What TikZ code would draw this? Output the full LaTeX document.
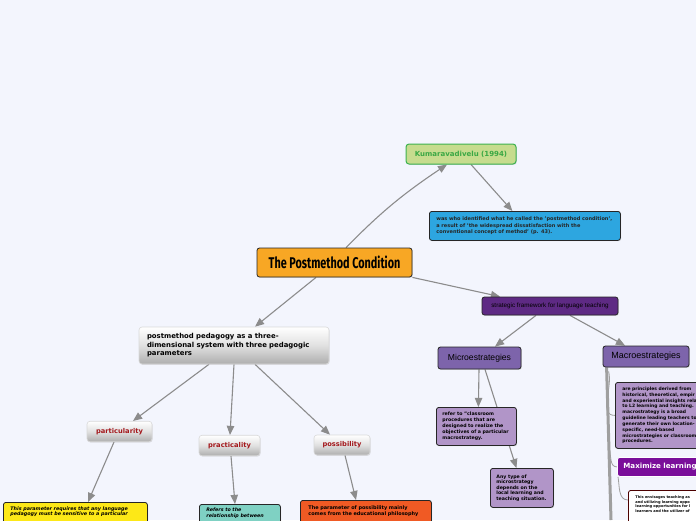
\documentclass[tikz,border=0pt]{standalone}
\usepackage{fontspec}
\setmainfont{DejaVu Sans}
\newfontfamily\arialfont{Liberation Sans}
\newfontfamily\titlefont[FakeStretch=0.7]{Fira Sans}
\usepackage{xcolor}
\usepackage{tikz}
\usetikzlibrary{shapes, arrows, positioning, calc, backgrounds, shadows}

\definecolor{bgcol}{RGB}{243,245,253}
\definecolor{kumarfill}{RGB}{198,220,142}
\definecolor{kumarline}{RGB}{60,178,80}
\definecolor{kumartext}{RGB}{58,168,68}
\definecolor{bluefill}{RGB}{45,166,224}
\definecolor{titlefill}{RGB}{248,167,36}
\definecolor{stratfill}{RGB}{94,42,132}
\definecolor{midpurple}{RGB}{125,100,171}
\definecolor{lavender}{RGB}{177,149,200}
\definecolor{maxfill}{RGB}{122,14,154}
\definecolor{yellowfill}{RGB}{253,232,23}
\definecolor{tealfill}{RGB}{127,209,195}
\definecolor{redfill}{RGB}{240,90,36}
\definecolor{darkred}{RGB}{163,23,27}
\definecolor{linegray}{RGB}{140,140,140}

\newcommand{\padbottom}{\\\rule{0pt}{8pt}}

\tikzset{
  box/.style={draw=black!85, line width=0.8pt, rounded corners=2.5pt,
    execute at begin node={\hyphenpenalty=10000\exhyphenpenalty=10000\relax},
    drop shadow={opacity=0.25, shadow xshift=0.8pt, shadow yshift=-0.8pt}},
  smalltext/.style={font=\bfseries\fontsize{4.7}{6.1}\selectfont, align=left},
  greybox/.style={draw=gray!30, line width=0.6pt, rounded corners=3pt,
    top color=white, bottom color=black!32, middle color=white!88!black,
    drop shadow={opacity=0.2, shadow xshift=0.6pt, shadow yshift=-0.8pt}},
  paramnode/.style={greybox, text=darkred, font=\bfseries\fontsize{6.7}{8}\selectfont,
    minimum height=20.5pt, inner sep=0pt},
  link/.style={draw=linegray, line width=1.1pt, -triangle 45},
  trunk/.style={draw=gray!75, line width=3pt},
  branch/.style={draw=gray!75, line width=0.8pt}
}

\begin{document}
\begin{tikzpicture}[x=1pt, y=-1pt]
\useasboundingbox (0,0) rectangle (696,520);
\clip (0,0) rectangle (696,520);

% central topic
\node[box, fill=titlefill, minimum width=155pt, minimum height=29pt, inner sep=0pt,
  font=\titlefont\bfseries\fontsize{15.5}{17}\selectfont] (title) at (334.5,262.5) {The Postmethod Condition};

% author
\node[box, fill=kumarfill, draw=kumarline, line width=1pt, rounded corners=3pt, text=kumartext,
  minimum width=110pt, minimum height=20pt, inner sep=0pt,
  font=\bfseries\fontsize{7}{8}\selectfont] (kumar) at (461,154) {Kumaravadivelu (1994)};
\node[box, fill=bluefill, anchor=north west, minimum height=29pt, inner xsep=7pt,
  text width=177pt, font=\bfseries\fontsize{5}{6.4}\selectfont, align=left, text=black!85]
  (blue) at (429,211) {was who identified what he called the 'postmethod condition',\\
  a result of 'the widespread dissatisfaction with the\\
  conventional concept of method' (p. 43).};

% strategic framework
\node[box, fill=stratfill, minimum width=136pt, minimum height=18pt, inner sep=0pt,
  font=\arialfont\fontsize{6.3}{7}\selectfont] (strat) at (550,306) {strategic framework for language teaching};
\node[box, fill=midpurple, minimum width=83pt, minimum height=22pt, inner sep=0pt,
  font=\arialfont\fontsize{8.6}{10}\selectfont] (micro) at (479.5,358) {Microestrategies};
\node[box, fill=midpurple, minimum width=86pt, minimum height=21pt, inner sep=0pt,
  font=\arialfont\fontsize{9}{10}\selectfont] (macro) at (646,356.5) {Macroestrategies};

\node[box, fill=lavender, smalltext, anchor=north west, minimum height=38pt,
  inner xsep=6pt, text width=68pt] (refer) at (436,407)
  {refer to "classroom\\ procedures that are\\ designed to realize the\\
  objectives of a particular\\ macrostrategy.};
\node[box, fill=lavender, smalltext, anchor=north west, minimum height=39pt,
  inner xsep=6pt, text width=51pt, font=\bfseries\fontsize{4.7}{5.5}\selectfont] (anytype) at (490,468)
  {Any type of\\ microstrategy\\ depends on the\\ local learning and\\ teaching situation.};

\node[box, fill=lavender, smalltext, anchor=north west, minimum height=66pt,
  inner xsep=7pt, text width=96pt, font=\bfseries\fontsize{4.5}{5.85}\selectfont] (macdesc) at (615,382)
  {are principles derived from\\ historical, theoretical, empir\\
  and experiential insights rela\\ to L2 learning and teaching.\\
  macrostrategy is a broad\\ guideline leading teachers to\\
  generate their own location-\\ specific, need-based\\
  microstrategies or classroom\\ procedures.};
\node[box, fill=maxfill, draw=white, text=white, anchor=north west, minimum height=19pt,
  minimum width=95pt, inner xsep=6pt, align=left, text width=83pt,
  font=\bfseries\fontsize{7.1}{8}\selectfont] (maxim) at (617,457)
  {Maximize learning};
\node[box, fill=white, draw=black!70!red, anchor=north west,
  inner xsep=7pt, inner ysep=5pt, text width=90pt, align=left,
  font=\bfseries\fontsize{3.6}{4.9}\selectfont] (envis) at (628,490)
  {This envisages teaching as\\ and utilizing learning oppo\\
  learning opportunities for l\\ learners and the utilizer of\padbottom};

% three parameters
\node[greybox, minimum width=190pt, minimum height=37pt, inner xsep=8pt, text width=174pt,
  align=left, font=\bfseries\fontsize{6.9}{8.5}\selectfont] (ped) at (234,345.5)
  {postmethod pedagogy as a three-\\ dimensional system with three pedagogic\\ parameters};
\node[paramnode, minimum width=65pt] (partic) at (119.5,431.5) {particularity};
\node[paramnode, minimum width=61pt] (pract) at (229.5,445.5) {practicality};
\node[paramnode, minimum width=56pt, minimum height=20pt] (possib) at (342,445) {possibility};

\node[box, fill=yellowfill, anchor=north west, inner xsep=7pt,
  inner ysep=4pt, text width=130pt, align=left,
  font=\bfseries\itshape\fontsize{4.85}{5.8}\selectfont] (yellow) at (3,502)
  {This parameter requires that any language\\ pedagogy must be sensitive to a particular\padbottom};
\node[box, fill=tealfill, anchor=north west, inner xsep=7pt,
  inner ysep=3.5pt, text width=67pt, align=left,
  font=\bfseries\itshape\fontsize{4.8}{5.6}\selectfont] (teal) at (199,504)
  {Refers to the\\ relationship between\padbottom};
\node[box, fill=redfill, anchor=north west, inner xsep=8pt,
  inner ysep=5pt, text width=115pt, align=left,
  font=\bfseries\fontsize{4.95}{6}\selectfont] (orange) at (300,500)
  {The parameter of possibility mainly\\ comes from the educational philosophy\padbottom};

\coordinate (trunkend) at (611,520);

\begin{scope}[on background layer]
\fill[bgcol] (0,0) rectangle (696,520);
\draw[link] ([xshift=11.5pt]title.north) to[bend left=6] ([xshift=-14pt]kumar.south);
\draw[link] ([xshift=10pt]kumar.south) -- ([xshift=-12.5pt]blue.north);
\draw[link] (title.south east) -- ([xshift=-50pt]strat.north);
\draw[link] ([xshift=-18.5pt]title.south) -- ([xshift=21pt]ped.north);
\draw[link] ([xshift=-14pt]strat.south) -- ([xshift=15.5pt]micro.north);
\draw[link] ([xshift=20pt]strat.south) -- ([xshift=-21pt]macro.north);
\draw[link] ([xshift=-0.5pt]micro.south) -- ([xshift=2pt]refer.north);
\draw[link] ([xshift=5.5pt]micro.south) -- ([xshift=-5.5pt]anytype.north);
\draw[link] ([xshift=-25pt]ped.south) -- ([xshift=13.5pt]partic.north);
\draw[link] (ped.south) -- ([xshift=0.5pt]pract.north);
\draw[link] ([xshift=21pt]ped.south) -- ([xshift=-12pt]possib.north);
\draw[link] ([xshift=-5.5pt]partic.south) -- ([xshift=85pt]yellow.north west);
\draw[link] ([xshift=1.5pt]pract.south) -- ([xshift=36pt]teal.north west);
\draw[link] ([xshift=3pt]possib.south) -- ([xshift=56pt]orange.north west);

% macrostrategy spine
\draw[trunk] ([xshift=4pt]macro.south west) -- (trunkend);
\draw[branch] ($(macro.south west)+(6,4)$) to[out=-75,in=180] (macdesc.west);
\draw[branch] ($(macdesc.south west)+(-6,0)$) to[out=-70,in=180] (maxim.west);
\draw[branch] ($(maxim.south west)+(1,0)$) to[out=-80,in=180] ($(envis.north west)+(0,10)$);
\end{scope}
\end{tikzpicture}
\end{document}
